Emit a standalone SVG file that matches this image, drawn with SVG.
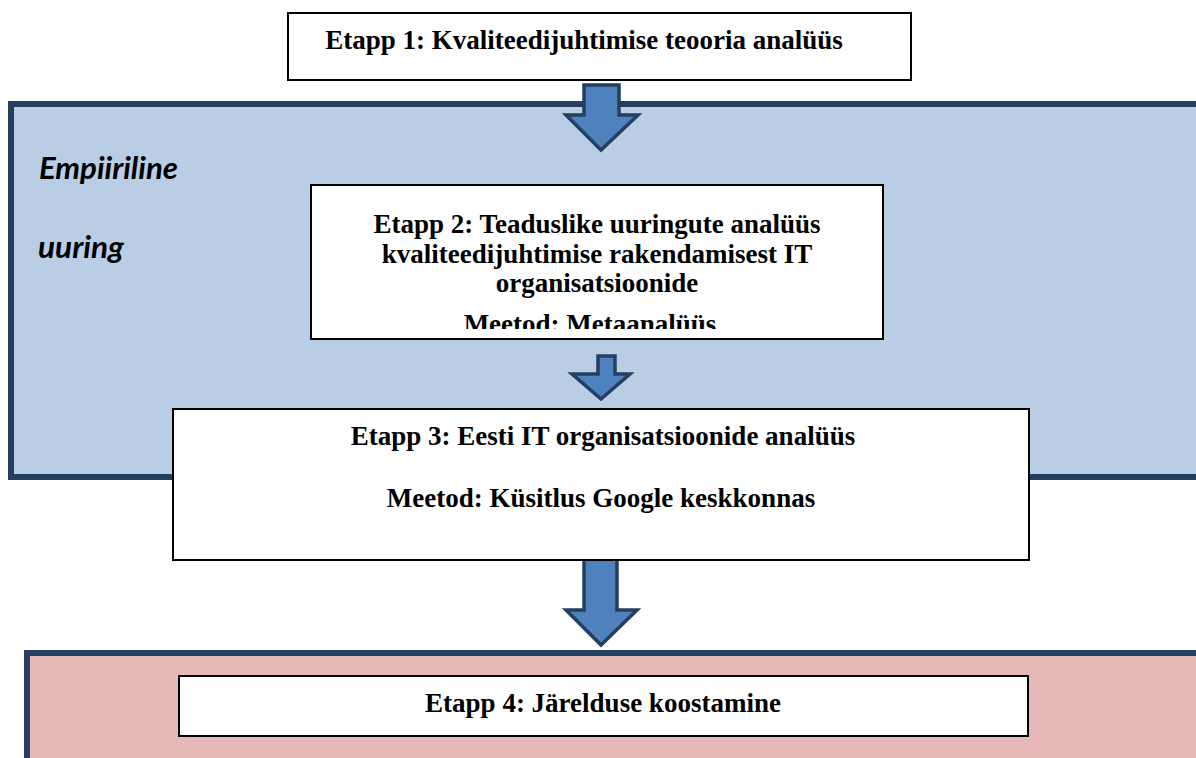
<svg xmlns="http://www.w3.org/2000/svg" width="1196" height="758" viewBox="0 0 1196 758">
<style>
.box{fill:#fff;stroke:#000;stroke-width:2}
.panel{stroke:#243F60;stroke-width:6}
.arrow{fill:#4F81BD;stroke:#243F60;stroke-width:3.5;stroke-linejoin:miter}
.t{font-family:"Liberation Serif","Times New Roman",serif;font-weight:bold;font-size:27px;fill:#000;text-anchor:middle}
.side{font-family:Lato,"Open Sans",sans-serif;font-weight:bold;font-style:italic;font-size:30px;fill:#000}
</style>
<defs>
<clipPath id="clip2"><rect x="311" y="185" width="572" height="144"/></clipPath>
</defs>
<rect width="1196" height="758" fill="#fff"/>
<g id="panel-empirical">
<rect class="panel" x="11" y="104" width="1200" height="373" fill="#B9CDE5"/>
<text class="side" x="39" y="179" textLength="139" lengthAdjust="spacingAndGlyphs">Empiiriline</text>
<text class="side" x="38" y="258" textLength="86" lengthAdjust="spacingAndGlyphs">uuring</text>
</g>
<g id="panel-conclusion">
<rect class="panel" x="27" y="653" width="1200" height="120" fill="#E6B9B8"/>
</g>
<g id="etapp1">
<rect class="box" x="288" y="13" width="623" height="67"/>
<text class="t" x="584" y="49">Etapp 1: Kvaliteedijuhtimise teooria analüüs</text>
</g>
<g id="connectors">
<path class="arrow" d="M584,85 H619 V115 H638 L601,150 L566,115 H584 Z"/>
<path class="arrow" d="M598,356 H615 V374 H630 L601,399 L572,374 H598 Z"/>
<path class="arrow" d="M584,555 H617 V610 H637 L601,645 L566,610 H584 Z"/>
</g>
<g id="etapp2">
<rect class="box" x="311" y="185" width="572" height="154"/>
<text class="t" x="597" y="233">Etapp 2: Teaduslike uuringute analüüs</text>
<text class="t" x="597" y="263">kvaliteedijuhtimise rakendamisest IT</text>
<text class="t" x="597" y="292">organisatsioonide</text>
<text class="t" x="590" y="333" clip-path="url(#clip2)">Meetod: Metaanalüüs</text>
</g>
<g id="etapp3">
<rect class="box" x="173" y="409" width="856" height="151"/>
<text class="t" x="603" y="445">Etapp 3: Eesti IT organisatsioonide analüüs</text>
<text class="t" x="601" y="507">Meetod: Küsitlus Google keskkonnas</text>
</g>
<g id="etapp4">
<rect class="box" x="179" y="676" width="849" height="60"/>
<text class="t" x="603" y="712">Etapp 4: Järelduse koostamine</text>
</g>
</svg>
